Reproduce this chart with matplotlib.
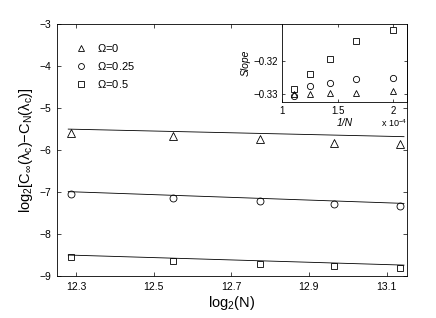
import numpy as np
import matplotlib
matplotlib.use('Agg')
import matplotlib.pyplot as plt

plt.rcParams['font.family'] = ['Liberation Sans', 'DejaVu Sans']
plt.rcParams['mathtext.fontset'] = 'custom'
plt.rcParams['mathtext.rm'] = 'Liberation Sans'
plt.rcParams['mathtext.it'] = 'Liberation Sans:italic'

# system sizes
N = np.array([5000, 6000, 7000, 8000, 9000])
log2N = np.log2(N)
invN = 1e4 / N  # in units of 1e-4

# main panel data
tri_vals = [-5.59, -5.67, -5.745, -5.82, -5.86]
circ_vals = [-7.055, -7.135, -7.22, -7.28, -7.34]
sq_vals = [-8.54, -8.635, -8.705, -8.76, -8.815]

# fitted lines (endpoints)
fit_x = [12.28, 13.145]
tri_fit = [-5.50, -5.68]
circ_fit = [-6.99, -7.27]
sq_fit = [-8.50, -8.74]

# inset: slope vs 1/N
slope_tri = [-0.3291, -0.3295, -0.3298, -0.3301, -0.3301]
slope_circ = [-0.3251, -0.3255, -0.3266, -0.3276, -0.3305]
slope_sq = [-0.3106, -0.3139, -0.3195, -0.3240, -0.3285]

labels = [r'$\Omega$=0', r'$\Omega$=0.25', r'$\Omega$=0.5']

fig = plt.figure(figsize=(4.36, 3.18), dpi=100)
ax = fig.add_axes([0.1307, 0.132, 0.803, 0.792])

mk = dict(mfc='none', mec='black', mew=0.6, ls='none')
ax.plot(fit_x, tri_fit, color='black', lw=0.6)
ax.plot(fit_x, circ_fit, color='black', lw=0.6)
ax.plot(fit_x, sq_fit, color='black', lw=0.6)
ax.plot(log2N, tri_vals, marker='^', ms=5.5, label=labels[0], **mk)
ax.plot(log2N, circ_vals, marker='o', ms=5, label=labels[1], **mk)
ax.plot(log2N, sq_vals, marker='s', ms=4.5, label=labels[2], **mk)

ax.set_xlim(12.251, 13.153)
ax.set_ylim(-9, -3)
ax.set_xticks([12.3, 12.5, 12.7, 12.9, 13.1])
ax.set_xticklabels(['12.3', '12.5', '12.7', '12.9', '13.1'])
ax.set_yticks([-9, -8, -7, -6, -5, -4, -3])
ax.tick_params(direction='in', top=True, right=True, length=3, width=0.5,
               labelsize=7.5, pad=4)
for s in ax.spines.values():
    s.set_linewidth(0.6)
ax.set_xlabel(r'log$_2$(N)', fontsize=10.5, labelpad=2)
ax.set_ylabel(r'log$_2$[C$_\infty$(λ$_\mathrm{c}$)$-$C$_\mathrm{N}$(λ$_\mathrm{c}$)]',
              fontsize=10.5, labelpad=3)

leg = ax.legend(loc='upper left', bbox_to_anchor=(0.02, 0.97), frameon=False,
                fontsize=8, handlelength=1.2, handletextpad=0.9,
                labelspacing=0.55, numpoints=1, markerscale=0.85)

# inset
ins = fig.add_axes([0.6468, 0.679, 0.287, 0.245])
ins.plot(invN, slope_tri, marker='^', ms=4.5, **mk)
ins.plot(invN, slope_circ, marker='o', ms=4.5, **mk)
ins.plot(invN, slope_sq, marker='s', ms=4, **mk)
ins.set_xlim(1, 2.126)
ins.set_ylim(-0.3324, -0.3088)
ins.set_xticks([1, 1.5, 2])
ins.set_xticklabels(['1', '1.5', '2'])
ins.set_yticks([-0.33, -0.32])
ins.set_yticklabels(['\u22120.33', '\u22120.32'])
ins.tick_params(direction='in', top=True, right=True, length=2.5, width=0.5,
                labelsize=7, pad=3)
for s in ins.spines.values():
    s.set_linewidth(0.6)
ins.set_xlabel('1/N', fontsize=7.5, style='italic', labelpad=1)
ins.set_ylabel('Slope', fontsize=7.5, style='italic', labelpad=2)
ins.text(1.0, -0.2, r'x 10$^{-4}$', transform=ins.transAxes,
         fontsize=6.5, ha='right', va='top')

fig.savefig('out.png', dpi=100)
